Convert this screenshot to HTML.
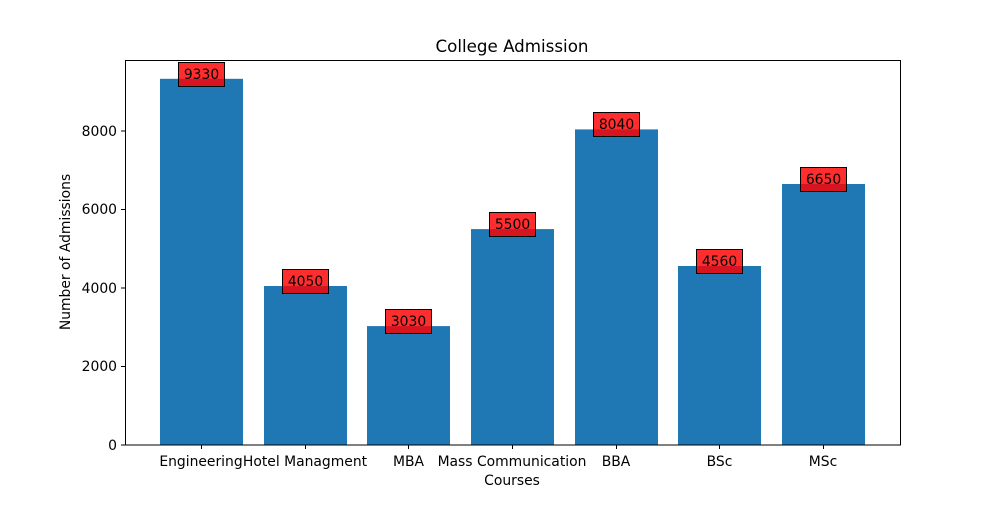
<!DOCTYPE html>
<html><head><style>
body{margin:0;background:#fff;}
svg text{font-family:"DejaVu Sans","Liberation Sans",sans-serif;}
</style></head><body>
<svg width="1000" height="500" xmlns="http://www.w3.org/2000/svg">
<rect width="1000" height="500" fill="#fff"/>
<g fill="#1f77b4">
<rect x="160" y="78.8" width="83" height="366.2"/>
<rect x="264" y="286" width="83" height="159"/>
<rect x="367" y="326.1" width="83" height="118.9"/>
<rect x="471" y="229.1" width="83" height="215.9"/>
<rect x="575" y="129.4" width="83" height="315.6"/>
<rect x="678" y="266" width="83" height="179"/>
<rect x="782" y="184" width="83" height="261"/>
</g>
<rect x="125.5" y="60.5" width="775" height="384.5" fill="none" stroke="#000" stroke-width="1"/>
<g stroke="#000">
<line x1="121" x2="125" y1="445" y2="445"/><line x1="121" x2="125" y1="366.5" y2="366.5"/>
<line x1="121" x2="125" y1="288" y2="288"/><line x1="121" x2="125" y1="209.5" y2="209.5"/>
<line x1="121" x2="125" y1="131" y2="131"/>
<line x1="201.5" x2="201.5" y1="445" y2="449"/><line x1="305.5" x2="305.5" y1="445" y2="449"/>
<line x1="408.5" x2="408.5" y1="445" y2="449"/><line x1="512.5" x2="512.5" y1="445" y2="449"/>
<line x1="616.5" x2="616.5" y1="445" y2="449"/><line x1="719.5" x2="719.5" y1="445" y2="449"/>
<line x1="823.5" x2="823.5" y1="445" y2="449"/>
</g>
<g font-size="13.9" text-anchor="end">
<text x="117" y="450">0</text><text x="117" y="371">2000</text><text x="117" y="293">4000</text>
<text x="117" y="214">6000</text><text x="117" y="136">8000</text>
</g>
<g font-size="13.9" text-anchor="middle">
<text x="201" y="466">Engineering</text><text x="305" y="466">Hotel Managment</text>
<text x="408.5" y="466">MBA</text><text x="512" y="466">Mass Communication</text>
<text x="616" y="466">BBA</text><text x="719.5" y="466">BSc</text><text x="823" y="466">MSc</text>
<text x="512" y="485">Courses</text>
<text x="512" y="52" font-size="16.7">College Admission</text>
<text transform="translate(70,252) rotate(-90)">Number of Admissions</text>
</g>
<g font-size="13.9" text-anchor="middle">
<g><rect x="178.5" y="62.5" width="46" height="24" fill="rgba(255,0,0,0.82)" stroke="#000"/><text x="201.5" y="79">9330</text></g>
<g><rect x="282.5" y="269.5" width="46" height="24" fill="rgba(255,0,0,0.82)" stroke="#000"/><text x="305.5" y="286">4050</text></g>
<g><rect x="385.5" y="309.5" width="46" height="24" fill="rgba(255,0,0,0.82)" stroke="#000"/><text x="408.5" y="326">3030</text></g>
<g><rect x="489.5" y="212.5" width="46" height="24" fill="rgba(255,0,0,0.82)" stroke="#000"/><text x="512.5" y="229">5500</text></g>
<g><rect x="593.5" y="112.5" width="46" height="24" fill="rgba(255,0,0,0.82)" stroke="#000"/><text x="616.5" y="129">8040</text></g>
<g><rect x="696.5" y="249.5" width="46" height="24" fill="rgba(255,0,0,0.82)" stroke="#000"/><text x="719.5" y="266">4560</text></g>
<g><rect x="800.5" y="167.5" width="46" height="24" fill="rgba(255,0,0,0.82)" stroke="#000"/><text x="823.5" y="184">6650</text></g>
</g>
</svg>
</body></html>
